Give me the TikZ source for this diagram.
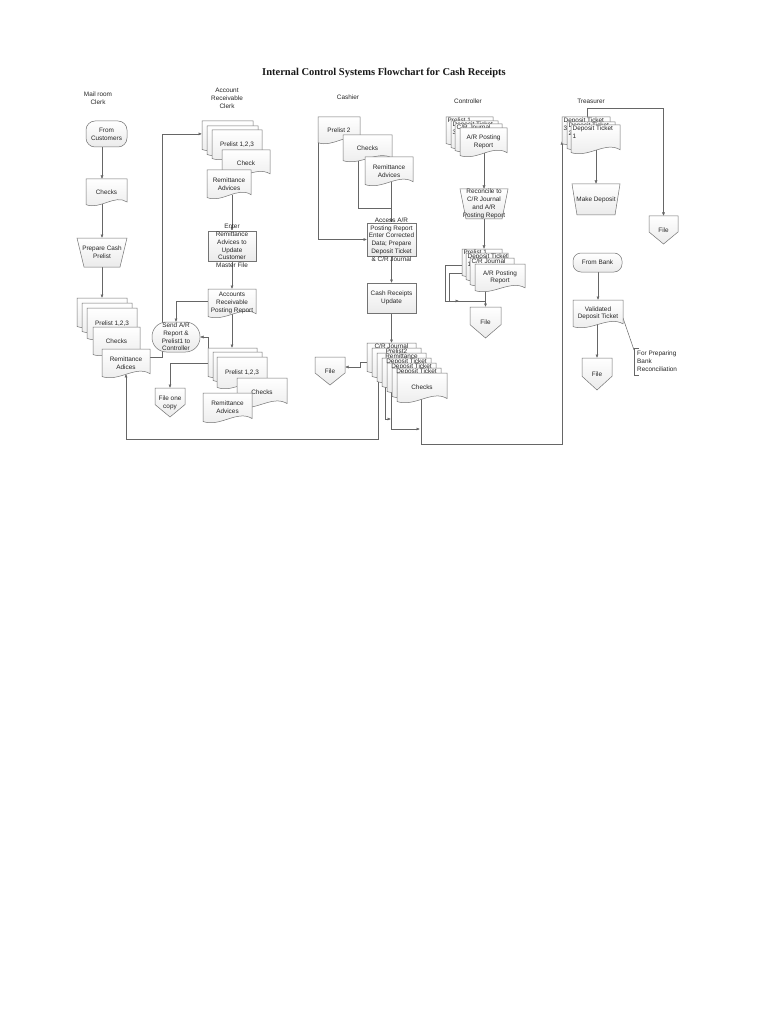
\documentclass[tikz,border=0pt]{standalone}
\usepackage{fontspec}
\setmainfont{Liberation Sans}
\newfontfamily\ttlfont{Liberation Serif}
\usetikzlibrary{arrows.meta,shapes.misc}
\pgfdeclarelayer{bg}
\pgfsetlayers{bg,main}
\tikzset{
 shp/.style={draw=black!55, line width=0.5pt, top color=white, bottom color=gray!16},
 txt/.style={font=\fontsize{6.4}{7.8}\selectfont, text=black!85, align=center, inner sep=0pt},
 ln/.style={draw=black!60, line width=0.5pt},
 arr/.style={ln, -{Latex[length=3.5pt,width=3pt]}},
}
\newcommand\mkanchor[5]{%
 \pgfmathsetmacro\myW{#4-#2}\pgfmathsetmacro\myH{0.86*(#5-#3)}%
 \node[inner sep=0pt,outer sep=0pt,minimum width=\myW pt,minimum height=\myH pt] (#1) at ({(#2+#4)/2},{#3+0.43*(#5-#3)}) {};}
\newcommand\mkbox[5]{%
 \pgfmathsetmacro\myW{#4-#2}\pgfmathsetmacro\myH{#5-#3}%
 \node[inner sep=0pt,outer sep=0pt,minimum width=\myW pt,minimum height=\myH pt] (#1) at ({(#2+#4)/2},{(#3+#5)/2}) {};}
\newcommand\docshape[4]{%
 \path[shp] (#1,#2) -- (#3,#2) -- (#3,{#4-0.15*(#4-#2)}) .. controls ({#3-0.3*(#3-#1)},{#4-0.45*(#4-#2)}) and ({#1+0.35*(#3-#1)},{#4+0.15*(#4-#2)}) .. (#1,{#4-0.05*(#4-#2)}) -- cycle;}
% document with centred text
\newcommand\mydoc[6]{\docshape{#2}{#3}{#4}{#5}\mkanchor{#1}{#2}{#3}{#4}{#5}%
 \node[txt] (#1t) at ({(#2+#4)/2},{#3+0.48*(#5-#3)}) {#6};}
% stacked page, label centred at top
\newcommand\pgc[6]{\docshape{#2}{#3}{#4}{#5}\mkanchor{#1}{#2}{#3}{#4}{#5}%
 \node[txt,anchor=north] (#1t) at ({(#2+#4)/2},{#3+1}) {#6};}
% stacked page, label left at top
\newcommand\pgl[6]{\docshape{#2}{#3}{#4}{#5}\mkanchor{#1}{#2}{#3}{#4}{#5}%
 \node[txt,anchor=north west,align=left] (#1t) at ({#2+1.5},{#3+1}) {#6};}
% off-page connector
\newcommand\offp[6]{%
 \path[shp] (#2,#3) -- (#4,#3) -- (#4,{#3+0.57*(#5-#3)}) -- ({(#2+#4)/2},#5) -- (#2,{#3+0.57*(#5-#3)}) -- cycle;
 \mkbox{#1}{#2}{#3}{#4}{#5}%
 \node[txt] (#1t) at (#1) {#6};}
% manual operation
\newcommand\trap[7]{%
 \path[shp] (#2,#3) -- (#4,#3) -- ({#4-#6},#5) -- ({#2+#6},#5) -- cycle;
 \mkbox{#1}{#2}{#3}{#4}{#5}%
 \node[txt] (#1t) at (#1) {#7};}
% process
\newcommand\proc[6]{%
 \path[shp] (#2,#3) rectangle (#4,#5);
 \mkbox{#1}{#2}{#3}{#4}{#5}%
 \node[txt] (#1t) at (#1) {#6};}
% terminator
\newcommand\term[7]{%
 \path[shp,rounded corners=#6] (#2,#3) rectangle (#4,#5);
 \mkbox{#1}{#2}{#3}{#4}{#5}%
 \node[txt] (#1t) at (#1) {#7};}

\begin{document}
\begin{tikzpicture}[x=1pt,y=-1pt]
\useasboundingbox (0,0) rectangle (768,1024);

% ---------- title and lanes
\node[font=\ttlfont\bfseries\fontsize{10.5}{12}\selectfont, text=black!90] (title) at (384,73) {Internal Control Systems Flowchart for Cash Receipts};
\node[txt] (lmail) at (98,98) {Mail room\\Clerk};
\node[txt] (lar) at (227,98.5) {Account\\Receivable\\Clerk};
\node[txt] (lcash) at (348,97) {Cashier};
\node[txt] (lctrl) at (468,101) {Controller};
\node[txt] (ltreas) at (591,101) {Treasurer};

% ---------- Mail room clerk
\term{fromCust}{86}{121}{127}{147}{9pt}{From\\Customers}
\mydoc{mChk}{86}{179}{127}{206}{Checks}
\trap{prep}{77}{238}{127}{267}{7}{Prepare Cash\\Prelist}
\pgc{mP1}{77}{298}{127}{328}{}
\pgc{mP2}{82}{303}{132}{333}{}
\mydoc{mP3}{87}{308}{137}{340}{Prelist 1,2,3}
\mydoc{mChk2}{93}{327}{140}{356}{Checks}
\mydoc{mRem}{102}{349}{150}{378}{Remittance\\Adices}

% ---------- Account receivable clerk
\pgc{arP1}{202}{121}{253}{151}{}
\pgc{arP2}{207}{126}{258}{156}{}
\mydoc{arP3}{212}{130}{262}{160}{Prelist 1,2,3}
\mydoc{arChk}{222}{150}{270}{178}{Check}
\mydoc{arRem}{207}{170}{251}{199}{Remittance\\Advices}
\proc{enter}{208}{231}{256}{261}{Enter\\Remittance\\Advices to\\Update\\Customer\\Master File}
\mydoc{arPost}{208}{289}{256}{318}{Accounts\\Receivable\\Posting Report}
\term{sendAR}{152}{322}{200}{352}{14.5pt}{Send A/R\\Report \&\\Prelist1 to\\Controller}
\pgc{q1}{208}{348}{257}{378}{}
\pgc{q2}{213}{352}{262}{382}{}
\mydoc{q3}{217}{357}{267}{389}{Prelist 1,2,3}
\offp{fileOne}{155}{388}{185}{417}{File one\\copy}
\mydoc{arChk2}{237}{378}{287}{408}{Checks}
\mydoc{arRem2}{203}{393}{252}{423}{Remittance\\Advices}

% ---------- Cashier
\mydoc{cPre}{318}{117}{360}{144}{Prelist 2}
\mydoc{cChk}{343}{135}{392}{162}{Checks}
\mydoc{cRem}{365}{157}{413}{186}{Remittance\\Advices}
\proc{access}{367}{223}{416}{256}{Access A/R\\Posting Report\\Enter Corrected\\Data; Prepare\\Deposit Ticket\\\& C/R Journal}
\proc{cru}{367}{283}{416}{313}{Cash Receipts\\Update}
\pgc{cs0}{367}{343}{416}{373}{C/R Journal}
\pgc{cs1}{372}{348}{421}{378}{Prelist2}
\pgc{cs2}{377}{353}{426}{383}{Remittance}
\pgc{cs3}{382}{358}{431}{388}{Deposit Ticket}
\pgc{cs4}{387}{363}{436}{393}{Deposit Ticket}
\pgc{cs5}{392}{368}{441}{398}{Deposit Ticket}
\mydoc{cs6}{397}{373}{447}{403}{Checks}
\offp{cFile}{315}{357}{345}{385}{File}

% ---------- Controller
\pgl{ct0}{446}{117}{493}{145}{Prelist 1}
\pgl{ct1}{451}{121}{498}{149}{Deposit Ticket\\3}
\pgl{ct2}{455}{124}{502}{152}{C/R Journal}
\mydoc{ct3}{460}{128}{507}{157}{A/R Posting\\Report}
\trap{rec}{460}{189}{508}{219}{6}{Reconcile to\\C/R Journal\\and A/R\\Posting Report}
\pgl{d0}{462}{249}{502}{277}{Prelist 1}
\pgl{d1}{466}{253}{508}{281}{Deposit Ticket\\1}
\pgl{d2}{470}{258}{514}{286}{C/R Journal}
\mydoc{d3}{475}{264}{525}{292}{A/R Posting\\Report}
\offp{ctFile}{470}{307}{501}{338}{File}

% ---------- Treasurer
\pgl{t0}{562}{117}{610}{145}{Deposit Ticket\\3}
\pgl{t1}{567}{122}{615}{150}{Deposit Ticket\\2}
\pgl{t2}{571}{125}{620}{154}{Deposit Ticket\\1}
\trap{mk}{572}{184}{620}{215}{5}{Make Deposit}
\offp{trFile}{649}{216}{678}{244}{File}
\term{fromBank}{573}{253}{622}{272}{8pt}{From Bank}
\mydoc{valid}{573}{300}{623}{328}{Validated\\Deposit Ticket}
\offp{trFile2}{582}{358}{612}{390}{File}
\node[txt,anchor=west,align=left] (annot) at (637,361) {For Preparing\\Bank\\Reconciliation};
\coordinate (annc) at (634,350);
\draw[ln] (639,348) -- (634,348) -- (634,375) -- (639,375);

% ---------- connectors (behind the shapes)
\begin{pgfonlayer}{bg}
\fill[white] (0,0) rectangle (768,1024);
% mail room
\draw[arr] (fromCust.south -| prep) -- (mChk.north -| prep);
\draw[arr] (mChk.south -| prep) -- (prep.north);
\draw[arr] (prep.south) -- (mP1.north);
\draw[arr] (mRem.east |- 0,357) -- (162,357) |- (arP1.west);
% A/R clerk
\draw[arr] (arRem.south -| enter) -- (enter.north);
\draw[arr] (enter.south) -- (arPost.north);
\draw[arr] (arPost.west) -| (sendAR.north);
\draw[arr] (arPost.south) -- (arPost.south |- q1.north);
\coordinate (sj) at (208,363);
\draw[arr] (sj) |- (sendAR.east);
\draw[arr] (sj) -| (fileOne.north);
% cashier
\draw[arr] (cPre.south west) |- (access.west);
\coordinate (cjn) at (access.north |- 0,208);
\draw[ln] ([xshift=15pt]cChk.south west) |- (cjn);
\draw[arr] (cRem.south -| access) -- (access.north);
\draw[arr] (access.south) -- (cru.north);
\draw[arr] (cru.south) -- (cs0.north);
\draw[arr] (cs1.west |- 0,362) -- (360,362) |- (cFile.east |- 0,367);
\coordinate (b1) at (378,375);
\draw[arr] (b1) -- (378,439) -| (mRem.south);
\coordinate (b2) at (385,385);
\draw[arr] (b2) -- (385,419) -- (391,419);
\coordinate (b3) at (391,390);
\draw[arr] (b3) -- (391,429) -- (420,429);
\draw[arr] (cs6.south -| 421,0) -- (421,444) -| (t0.south west);
% controller
\draw[arr] (ct3.south -| rec) -- (rec.north);
\draw[arr] (rec.south) -- (rec.south |- d0.north);
\coordinate (cj) at (ctFile.north |- 0,301);
\draw[ln] (d0.west |- 0,265) -- (445,265) |- (cj);
\draw[arr] (445,301) -- (459,301);
\draw[ln] (d1.west |- 0,273) -- (449,273) -- (449,301);
\draw[ln] (d3.south -| cj) -- (cj);
\draw[arr] (cj) -- (ctFile.north);
% treasurer
\draw[arr] (t2.south -| mk) -- (mk.north);
\draw[arr] (t0.north -| 587,0) -- (587,108) -| (trFile.north);
\draw[arr] (fromBank.south -| valid) -- (valid.north);
\draw[arr] (valid.south -| trFile2) -- (trFile2.north);
\draw[ln] (valid.east |- 0,318) -- (annc);
\end{pgfonlayer}
\end{tikzpicture}
\end{document}
